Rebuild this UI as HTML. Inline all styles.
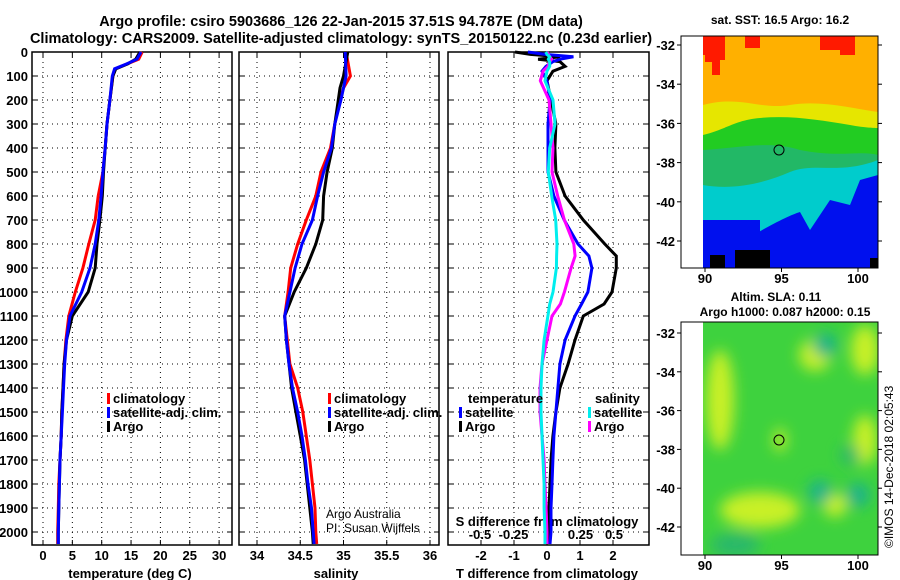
<!DOCTYPE html>
<html><head><meta charset="utf-8"><style>
html,body{margin:0;padding:0;background:#fff;}
svg{display:block;font-family:"Liberation Sans",sans-serif;}
.b{font-weight:bold;}
</style></head><body>
<svg id="c" width="900" height="580" viewBox="0 0 900 580" xmlns="http://www.w3.org/2000/svg">
<defs>
<filter id="blur" x="-20%" y="-20%" width="140%" height="140%"><feGaussianBlur stdDeviation="7"/></filter>
<clipPath id="m1clip"><rect x="703" y="36" width="175" height="232"/></clipPath>
<clipPath id="m2clip"><rect x="703" y="322" width="175" height="233"/></clipPath>
</defs>
<text x="341" y="26" text-anchor="middle" class="b" font-size="14.5">Argo profile: csiro 5903686_126 22-Jan-2015 37.51S 94.787E (DM data)</text>
<text x="341" y="43" text-anchor="middle" class="b" font-size="14.5">Climatology: CARS2009. Satellite-adjusted climatology: synTS_20150122.nc (0.23d earlier)</text>

<!-- map 1 -->
<g>
<text x="780" y="24" text-anchor="middle" class="b" font-size="12">sat. SST: 16.5 Argo: 16.2</text>
<g clip-path="url(#m1clip)">
<rect x="703" y="36" width="175" height="232" fill="#ffb000"/>
<path d="M703 36 H725 V60 H715 V55 H703Z M745 36 H760 V48 H745Z M820 36 H855 V55 H840 V50 H820Z M705 48 H720 V75 H712 V62 H705Z" fill="#ff1a00"/>
<path d="M703 105 C740 95 760 110 790 105 C820 100 850 108 878 112 V268 H703Z" fill="#e6e600"/>
<path d="M703 135 C725 130 735 120 760 118 C790 115 820 120 850 125 C865 128 878 128 878 128 V268 H703Z" fill="#22cc22"/>
<path d="M703 150 C740 148 770 140 800 150 C840 158 860 150 878 155 V268 H703Z" fill="#22b866"/>
<path d="M703 185 C730 190 760 185 790 172 C815 162 840 175 878 160 V268 H703Z" fill="#00cccc"/>
<path d="M745 270 V240 C770 225 790 215 800 212 L810 230 L830 200 L850 205 L860 180 L878 175 V270Z" fill="#0010ee"/>
<path d="M703 220 H760 V245 L780 240 V270 H703Z" fill="#0010ee"/>
<path d="M710 255 H725 V270 H710Z M735 250 H770 V270 H735Z M870 258 H878 V268 H870Z" fill="#000"/>
</g>
<rect x="681" y="36" width="197" height="232" fill="none" stroke="#000" stroke-width="1"/>
<ellipse cx="779" cy="150" rx="5" ry="5" fill="none" stroke="#000" stroke-width="1"/>
</g>
<!-- map 2 -->
<g>
<text x="776" y="301" text-anchor="middle" class="b" font-size="12">Altim. SLA: 0.11</text>
<text x="785" y="316" text-anchor="middle" class="b" font-size="12">Argo h1000: 0.087 h2000: 0.15</text>
<g clip-path="url(#m2clip)">
<rect x="703" y="322" width="175" height="233" fill="#3ed23e"/>
<g filter="url(#blur)">
<ellipse cx="720" cy="400" rx="14" ry="50" fill="#c8f028"/>
<ellipse cx="815" cy="355" rx="16" ry="16" fill="#c8f028"/>
<ellipse cx="865" cy="350" rx="14" ry="25" fill="#c8f028"/>
<ellipse cx="760" cy="510" rx="40" ry="18" fill="#c8f028"/>
<ellipse cx="865" cy="440" rx="12" ry="25" fill="#c8f028"/>
<ellipse cx="835" cy="505" rx="12" ry="12" fill="#c8f028"/>
<ellipse cx="780" cy="440" rx="6" ry="12" fill="#c8f028"/>
<ellipse cx="825" cy="345" rx="12" ry="12" fill="#1fb38a"/>
<ellipse cx="820" cy="492" rx="12" ry="12" fill="#1fb38a"/>
<ellipse cx="858" cy="495" rx="12" ry="12" fill="#1fb38a"/>
<ellipse cx="850" cy="455" rx="10" ry="10" fill="#2ab86a"/>
<ellipse cx="735" cy="545" rx="25" ry="12" fill="#2ab86a"/>
</g>
</g>
<rect x="681" y="322" width="197" height="233" fill="none" stroke="#000" stroke-width="1"/>
<ellipse cx="779" cy="440" rx="5" ry="5" fill="none" stroke="#000" stroke-width="1"/>
</g>
<text transform="translate(893,548) rotate(-90)" font-size="12">©IMOS 14-Dec-2018 02:05:43</text>
<g id="dyn"></g>
</svg>
<script>
// ---- data ----
const depthT = [0,30,50,70,100,200,300,400,500,600,700,800,900,1000,1100,1200,1300,1400,1500,1600,1700,1800,1900,2000,2050];
const tempClim = [16.9,16.3,14.3,12.3,11.9,11.4,10.9,10.6,10.2,9.4,8.9,7.8,6.8,5.5,4.4,3.9,3.6,3.4,3.2,3.1,2.9,2.7,2.6,2.5,2.5];
const tempSat  = [16.7,16.0,14.2,12.2,11.8,11.4,10.9,10.6,10.2,9.9,9.5,8.9,8.0,6.6,4.6,4.0,3.7,3.5,3.3,3.1,2.9,2.8,2.7,2.6,2.6];
const tempArgo = [16.5,15.8,14.4,12.4,11.9,11.4,10.9,10.6,10.3,10.1,9.7,9.2,8.9,7.7,5.0,4.0,3.6,3.4,3.2,3.1,2.9,2.8,2.7,2.6,2.6];
const depthS = [0,100,150,200,300,400,500,600,700,800,900,1000,1100,1200,1300,1400,1500,1600,1700,1800,1900,2000,2050];
const salClim = [35.03,35.08,35.0,34.96,34.9,34.85,34.74,34.68,34.57,34.47,34.39,34.36,34.32,34.35,34.38,34.47,34.53,34.57,34.61,34.64,34.67,34.68,34.69];
const salSat  = [35.02,35.03,35.0,34.97,34.9,34.86,34.77,34.7,34.64,34.52,34.44,34.38,34.32,34.34,34.37,34.41,34.47,34.52,34.56,34.59,34.63,34.65,34.66];
const salArgo = [35.05,35.0,34.96,34.94,34.9,34.87,34.81,34.77,34.76,34.68,34.57,34.43,34.32,34.34,34.37,34.40,34.45,34.50,34.55,34.58,34.61,34.64,34.65];
const depthD = [0,10,20,30,40,60,80,120,200,300,400,500,600,700,800,850,900,1000,1050,1100,1200,1300,1400,1500,1600,1700,1800,1900,2000,2050];
const dTSat  = [-0.58,-0.06,0.8,0.4,0.18,-0.03,-0.15,0.0,0.09,0.03,0.03,0.03,0.21,0.52,0.94,1.27,1.36,1.24,1.05,0.85,0.55,0.39,0.33,0.27,0.21,0.18,0.15,0.12,0.12,0.09];
const dTArgo = [-0.97,-0.5,0.4,-0.27,0.39,0.55,0.18,0.0,0.12,0.27,0.24,0.27,0.55,1.1,1.75,2.1,2.1,1.97,1.73,1.1,0.85,0.64,0.39,0.27,0.18,0.12,0.09,0.06,0.03,0.03];
const dSSat  = [-0.01,0.0,0.02,0.01,0.02,0.02,0.0,-0.015,0.045,0.06,0.02,0.01,0.035,0.065,0.075,0.072,0.07,0.045,0.02,0.007,-0.022,-0.037,-0.045,-0.045,-0.037,-0.03,-0.022,-0.022,-0.015,-0.015];
const dSArgo = [0.0,0.01,0.02,0.035,0.02,0.007,-0.03,-0.05,0.015,0.03,0.045,0.037,0.08,0.13,0.2,0.21,0.18,0.13,0.1,0.037,0.0,-0.037,-0.052,-0.052,-0.037,-0.022,-0.015,-0.007,0.0,0.0];
const depthTicks = [0,100,200,300,400,500,600,700,800,900,1000,1100,1200,1300,1400,1500,1600,1700,1800,1900,2000];
const tempTicks = [0,5,10,15,20,25,30];
const salTicks = [34,34.5,35,35.5,36];
const dTTicks = [-2,-1,0,1,2];
const dSTicks = [-0.5,-0.25,0,0.25,0.5];
const lonTicks = [90,95,100];
const latTicks = [-32,-34,-36,-38,-40,-42];

// ---- axes ----
const NS='http://www.w3.org/2000/svg';
const g=document.getElementById('dyn');
const yD=d=>52+d*0.24;
const xT=v=>43+v*5.87;
const xS=v=>257+(v-34)*86.5;
const xDT=v=>547+v*33;
const xDS=v=>547+v*134;
const xLon=v=>705+(v-90)*15.3;
const yLat1=v=>45+(-32-v)*19.6;
const yLat2=v=>333+(-32-v)*19.4;
function el(t,a,p){const e=document.createElementNS(NS,t);for(const k in a)e.setAttribute(k,a[k]);(p||g).appendChild(e);return e;}
function txt(x,y,s,a,p){const e=el('text',Object.assign({x:x,y:y},a||{}),p);e.textContent=s;return e;}

const panels=[{x0:32,x1:232,xf:xT,ticks:tempTicks,name:'temperature'},{x0:239,x1:439,xf:xS,ticks:salTicks,name:'salinity'},{x0:448,x1:649,xf:xDT,ticks:dTTicks,name:'difference'}];
panels.forEach(p=>{
  const pg=el('g',{});
  
  
  depthTicks.forEach(d=>{
    const l=el('line',{x1:p.x0,x2:p.x1,y1:yD(d),y2:yD(d),stroke:'#000','stroke-width':1,'stroke-dasharray':'1,4'},pg);
    
    
    el('line',{x1:p.x0,x2:p.x0+5,y1:yD(d),y2:yD(d),stroke:'#000'},pg);
    el('line',{x1:p.x1,x2:p.x1-5,y1:yD(d),y2:yD(d),stroke:'#000'},pg);
  });
  p.ticks.forEach(v=>{
    const x=p.xf(v);
    const l=el('line',{x1:x,x2:x,y1:52,y2:545,stroke:'#000','stroke-width':1,'stroke-dasharray':'1,4'},pg);
    
    
    el('line',{x1:x,x2:x,y1:545,y2:540,stroke:'#000'},pg);
    el('line',{x1:x,x2:x,y1:52,y2:57,stroke:'#000'},pg);
    const t=txt(x,560,String(v),{'text-anchor':'middle','font-size':13,'font-weight':'bold'},pg);
    
    
  });
  const f=el('rect',{x:p.x0,y:52,width:p.x1-p.x0,height:493,fill:'none',stroke:'#000','stroke-width':1.5},pg);
  
  
});
depthTicks.forEach(d=>{
  const t=txt(28,yD(d)+5,String(d),{'text-anchor':'end','font-size':13,'font-weight':'bold'});
  
  
});
dSTicks.forEach(v=>{
  const t=txt(xDS(v),539,String(v),{'text-anchor':'middle','font-size':13,'font-weight':'bold'});
  
  
});
let t;
t=txt(130,578,'temperature (deg C)',{'text-anchor':'middle','font-size':13,'font-weight':'bold'});


t=txt(336,578,'salinity',{'text-anchor':'middle','font-size':13,'font-weight':'bold'});


t=txt(547,578,'T difference from climatology',{'text-anchor':'middle','font-size':13,'font-weight':'bold'});


t=txt(547,526,'S difference from climatology',{'text-anchor':'middle','font-size':13,'font-weight':'bold'});


t=txt(326,518,'Argo Australia',{'font-size':12});


t=txt(326,532,'PI: Susan Wijffels',{'font-size':12});



// series
function line(xs,ds,xf,color,name){
  const pts=xs.map((v,i)=>xf(v).toFixed(1)+','+yD(ds[i]).toFixed(1)).join(' ');
  const l=el('polyline',{points:pts,fill:'none',stroke:color,'stroke-width':3,'stroke-linejoin':'miter'});
  
  
}
line(tempClim,depthT,xT,'#ff0000','temp-climatology-line');
line(tempArgo,depthT,xT,'#000000','temp-argo-line');
line(tempSat,depthT,xT,'#0000ff','temp-satellite-line');
line(salClim,depthS,xS,'#ff0000','sal-climatology-line');
line(salArgo,depthS,xS,'#000000','sal-argo-line');
line(salSat,depthS,xS,'#0000ff','sal-satellite-line');
line(dTArgo,depthD,xDT,'#000000','t-diff-argo-line');
line(dTSat,depthD,xDT,'#0000ff','t-diff-satellite-line');
line(dSArgo,depthD,xDS,'#ff00ff','s-diff-argo-line');
line(dSSat,depthD,xDS,'#00eeee','s-diff-satellite-line');

// legends
function leg(x,y,color,label,name){
  const r=el('rect',{x:x,y:y-10,width:3,height:11,fill:color});
  
  
  const tt=txt(x+6,y,label,{'font-size':13,'font-weight':'bold'});
  
  
}
leg(107,403,'#ff0000','climatology','legend-temp-climatology');
leg(107,417,'#0000ff','satellite-adj. clim.','legend-temp-satellite');
leg(107,431,'#000','Argo','legend-temp-argo');
leg(328,403,'#ff0000','climatology','legend-sal-climatology');
leg(328,417,'#0000ff','satellite-adj. clim.','legend-sal-satellite');
leg(328,431,'#000','Argo','legend-sal-argo');
t=txt(468,403,'temperature',{'font-size':13,'font-weight':'bold'});


t=txt(595,403,'salinity',{'font-size':13,'font-weight':'bold'});


leg(459,417,'#0000ff','satellite','legend-t-diff-satellite');
leg(459,431,'#000','Argo','legend-t-diff-argo');
leg(588,417,'#00eeee','satellite','legend-s-diff-satellite');
leg(588,431,'#ff00ff','Argo','legend-s-diff-argo');

// map axes
lonTicks.forEach(v=>{
  [[268,283],[555,570]].forEach(([yb,yl])=>{
    el('line',{x1:xLon(v),x2:xLon(v),y1:yb,y2:yb+4,stroke:'#000'});
    const tt=txt(xLon(v),yl,String(v),{'text-anchor':'middle','font-size':13,'font-weight':'bold'});
    
    
  });
});
latTicks.forEach(v=>{
  [yLat1(v),yLat2(v)].forEach(y=>{
    el('line',{x1:878,x2:882,y1:y,y2:y,stroke:'#000'});
    el('line',{x1:681,x2:677,y1:y,y2:y,stroke:'#000'});
    const tt=txt(675,y+5,String(v),{'text-anchor':'end','font-size':13,'font-weight':'bold'});
    
    
  });
});
</script>
</body></html>
